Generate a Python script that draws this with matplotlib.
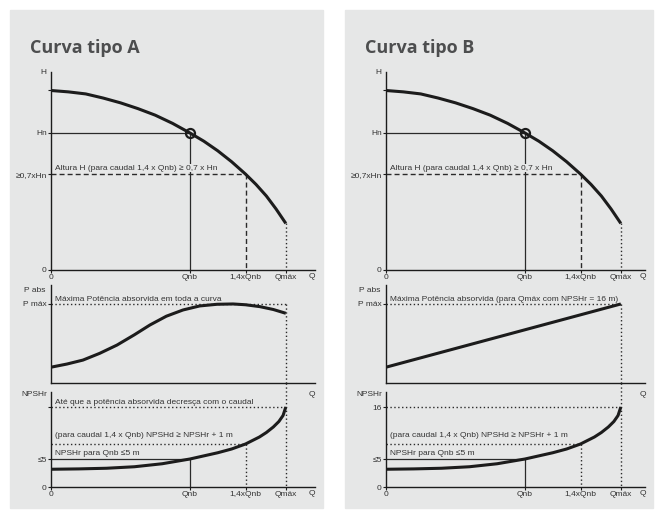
import matplotlib
matplotlib.use("Agg")
import matplotlib.pyplot as plt
from matplotlib.patches import Rectangle

FIG_W, FIG_H = 655, 512
BG = "#e6e7e7"
INK = "#1c1c1c"
TXT = "#333333"
TITLE_C = "#4d4e4f"
FONT = "Liberation Sans"

# flow axis, in units of Qnb
q_ticks = [0, 1.0, 1.4, 1.69]
q_labels = ["0", "Qnb", "1,4xQnb", "Qmáx"]
q_nb, q_14, q_max = 1.0, 1.4, 1.69

# head curve, H in units of Hn
h_q = [0, 0.125, 0.25, 0.375, 0.5, 0.625, 0.75, 0.875, 1.0, 1.1, 1.2, 1.3, 1.4,
       1.475, 1.55, 1.62, 1.69]
h_val = [1.31, 1.30, 1.285, 1.255, 1.22, 1.178, 1.13, 1.07, 1.0, 0.94, 0.87, 0.79, 0.70,
         0.625, 0.54, 0.445, 0.34]
h_ticks = [0, 0.7, 1.0, 1.31]
h_labels = ["0", "≥0,7xHn", "Hn", ""]

# absorbed power, in units of P max
pa_q = [0, 0.115, 0.23, 0.35, 0.475, 0.6, 0.712, 0.83, 0.95, 1.07, 1.194, 1.31, 1.4,
        1.504, 1.6, 1.69]
pa_val = [0.2, 0.24, 0.29, 0.375, 0.48, 0.61, 0.734, 0.845, 0.924, 0.975, 0.996, 1.0,
          0.99, 0.966, 0.93, 0.882]
pb_q = [0, 1.69]
pb_val = [0.2, 1.0]

# NPSHr curve (schematic scale)
n_q = [0, 0.2, 0.4, 0.6, 0.8, 1.0, 1.2, 1.3, 1.4, 1.5, 1.55, 1.6, 1.64, 1.67, 1.69]
n_val = [3.55, 3.62, 3.75, 4.05, 4.65, 5.6, 6.85, 7.6, 8.6, 10.0, 10.9, 12.0, 13.1, 14.3, 16]
n_at_qnb, n_at_q14, n_at_qmax = 5.6, 8.6, 16

top_text = "Altura H (para caudal 1,4 x Qnb) ≥ 0,7 x Hn"
npsh_text_14 = "(para caudal 1,4 x Qnb) NPSHd ≥ NPSHr + 1 m"
npsh_text_5 = "NPSHr para Qnb ≤5 m"

fig = plt.figure(figsize=(FIG_W / 100, FIG_H / 100), dpi=100)
fig.patch.set_facecolor("white")


def rect(left, top, right, bottom):
    return [left / FIG_W, 1 - bottom / FIG_H, (right - left) / FIG_W, (bottom - top) / FIG_H]


def style(ax, xend):
    ax.set_facecolor("none")
    for s in ("top", "right"):
        ax.spines[s].set_visible(False)
    for s in ("left", "bottom"):
        ax.spines[s].set_color(INK)
        ax.spines[s].set_linewidth(1.0)
    ax.spines["bottom"].set_bounds(0, xend)
    ax.set_xlim(0, 1.9)
    ax.tick_params(direction="out", length=2.2, width=0.8, pad=0.8, labelsize=6,
                   color=INK, labelcolor=TXT)
    for lab in ax.get_xticklabels() + ax.get_yticklabels():
        lab.set_family(FONT)


def note(ax, x, y, s, dy, **kw):
    ax.annotate(s, xy=(x, y), xytext=(3, dy), textcoords="offset points", ha="left",
                va="center", fontsize=6, family=FONT, color=TXT, zorder=3, **kw)


def side_label(ax, y, s, dx=-3):
    ax.annotate(s, xy=(0, y), xycoords=ax.get_yaxis_transform(), xytext=(dx, 0),
                textcoords="offset points", ha="right", va="center", fontsize=6,
                family=FONT, color=TXT)


thin = dict(color="#2a2a2a", lw=0.9, zorder=2)
dashed = dict(color="#2a2a2a", lw=1.0, dashes=(3.6, 2.2), zorder=2)
dotted = dict(color="#2a2a2a", lw=1.0, dashes=(1.0, 1.8), zorder=2)
curve = dict(color=INK, lw=2.2, zorder=4, solid_capstyle="butt", solid_joinstyle="round")


def draw_side(bg_left, bg_right, title, title_x, x0, xend, q_x, p_q, p_val, mid_text,
              n_top_text, n_top_label):
    fig.add_artist(Rectangle((bg_left / FIG_W, 1 - 508 / FIG_H), (bg_right - bg_left) / FIG_W,
                             498 / FIG_H, transform=fig.transFigure, color=BG, zorder=-10))
    fig.text(title_x / FIG_W, 1 - 53 / FIG_H, title, fontsize=13, fontweight="bold",
             family="Open Sans", color=TITLE_C, va="baseline", ha="left")

    # head
    ax = fig.add_axes(rect(x0, 72, x0 + 264, 270))
    ax.set_ylim(0, 1.445)
    ax.set_xticks(q_ticks, q_labels)
    ax.set_yticks(h_ticks, h_labels)
    style(ax, xend)
    ax.plot([0, q_nb], [1.0, 1.0], **thin)
    ax.plot([q_nb, q_nb], [1.0, 0], **thin)
    ax.plot([0, q_14], [0.7, 0.7], **dashed)
    ax.plot([q_14, q_14], [0.7, 0], **dashed)
    ax.plot([q_max, q_max], [h_val[-1], 0], **dotted)
    ax.plot(h_q, h_val, **curve)
    ax.plot([q_nb], [1.0], marker="o", ms=6.5, mfc="none", mec=INK, mew=1.6, zorder=5)
    note(ax, 0, 0.7, top_text, 4.3, bbox=dict(fc=BG, ec="none", pad=0.6))
    side_label(ax, 1.445, "H")
    ax.annotate("Q", xy=(q_x, 0), xytext=(0, -5), textcoords="offset points", ha="center",
                va="center", fontsize=6, family=FONT, color=TXT)

    # power
    ax = fig.add_axes(rect(x0, 285, x0 + 264, 383))
    ax.set_ylim(0, 1.24)
    ax.set_xticks([])
    ax.set_yticks([1.0], ["P máx"])
    style(ax, xend)
    ax.plot([0, q_max], [1.0, 1.0], **dotted)
    ax.plot([q_max, q_max], [1.0, 0], **dotted)
    ax.plot(p_q, p_val, **curve)
    note(ax, 0, 1.0, mid_text, 3.4)
    side_label(ax, 1.165, "P abs", dx=-4)

    # NPSHr
    ax = fig.add_axes(rect(x0, 383, x0 + 264, 487))
    ax.set_ylim(0, 20.8)
    ax.set_xticks(q_ticks, q_labels)
    ax.set_yticks([0, n_at_qnb, n_at_qmax], ["0", "≤5", n_top_label])
    style(ax, xend)
    ax.spines["left"].set_bounds(0, 19)
    ax.plot([0, q_max], [n_at_qmax, n_at_qmax], **dotted)
    ax.plot([q_max, q_max], [20.8, 0], **dotted)
    ax.plot([0, q_14], [n_at_q14, n_at_q14], **dotted)
    ax.plot([q_14, q_14], [n_at_q14, 0], **dotted)
    ax.plot([0, q_nb], [n_at_qnb, n_at_qnb], **thin)
    ax.plot([q_nb, q_nb], [n_at_qnb, 0], **thin)
    ax.plot(n_q, n_val, **curve)
    if n_top_text:
        note(ax, 0, n_at_qmax, n_top_text, 3.1)
    note(ax, 0, n_at_q14, npsh_text_14, 6.3)
    note(ax, 0, n_at_qnb, npsh_text_5, 3.8)
    side_label(ax, 18.4, "NPSHr", dx=-3)
    ax.text(q_x, 18.4, "Q", ha="center", va="center", fontsize=6, family=FONT, color=TXT)
    ax.annotate("Q", xy=(q_x, 0), xytext=(0, -5), textcoords="offset points", ha="center",
                va="center", fontsize=6, family=FONT, color=TXT)


draw_side(10, 323, "Curva tipo A", 30, 51, 1.9, 1.88, pa_q, pa_val,
          "Máxima Potência absorvida em toda a curva",
          "Até que a potência absorvida decresça com o caudal", "")
draw_side(345, 653, "Curva tipo B", 365, 386, 1.865, 1.85, pb_q, pb_val,
          "Máxima Potência absorvida (para Qmáx com NPSHr = 16 m)", None, "16")

fig.savefig("out.png", dpi=100)
